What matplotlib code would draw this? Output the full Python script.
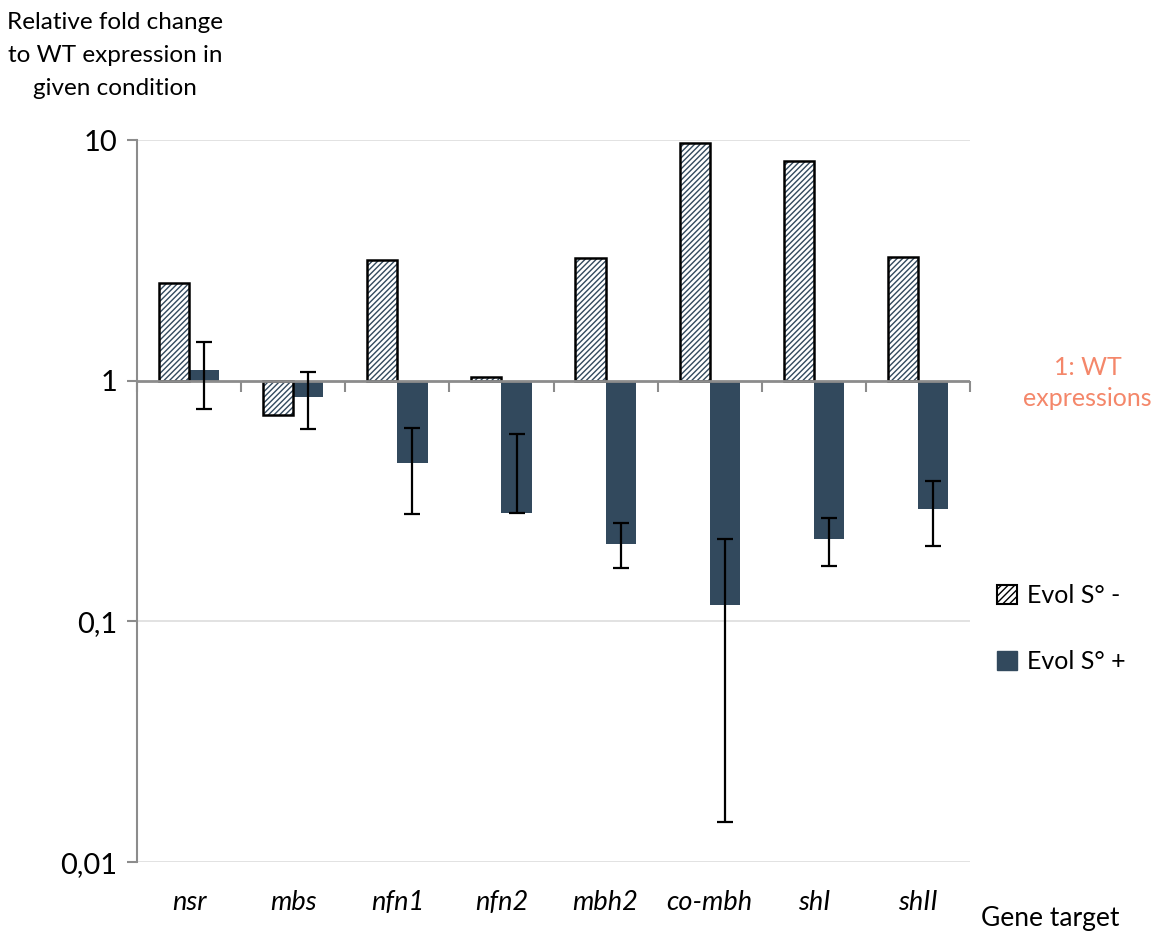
import matplotlib.pyplot as plt
import numpy as np

plt.rcParams["font.family"] = ["Lato", "DejaVu Sans"]

genes = ["nsr", "mbs", "nfn1", "nfn2", "mbh2", "co-mbh", "shI", "shII"]
evol_minus = [2.55, 0.72, 3.18, 1.04, 3.24, 9.75, 8.2, 3.27]
evol_plus = [1.11, 0.86, 0.456, 0.283, 0.21, 0.117, 0.219, 0.294]
err_low = [0.76, 0.63, 0.28, 0.283, 0.166, 0.0147, 0.17, 0.205]
err_high = [1.45, 1.09, 0.638, 0.60, 0.257, 0.22, 0.27, 0.385]

DARK = "#32495D"
x = np.arange(len(genes))
w = 0.29

fig = plt.figure(figsize=(11.52, 9.34), dpi=100)
ax = fig.add_axes([0.119, 0.077, 0.723, 0.773])
ax.set_yscale("log")
ax.set_ylim(0.01, 10)
ax.set_xlim(-0.5, len(genes) - 0.5)

minus = np.array(evol_minus)
plus = np.array(evol_plus)

# hatched bars: hatch in dark blue, black outline drawn separately
ax.bar(x - w / 2, minus - 1, w, bottom=1, color="white", edgecolor=DARK,
       hatch="//////", linewidth=0, zorder=3)
ax.bar(x - w / 2, minus - 1, w, bottom=1, fill=False, edgecolor="black",
       linewidth=1.8, zorder=4)
ax.bar(x + w / 2, plus - 1, w, bottom=1, color=DARK, zorder=3)
yerr = np.array([plus - np.array(err_low), np.array(err_high) - plus])
ax.errorbar(x + w / 2, plus, yerr=yerr, fmt="none", ecolor="black",
            elinewidth=1.6, capsize=6, capthick=1.6, zorder=5)

# gridlines and axis crossing at 1
for v in [10, 0.1, 0.01]:
    ax.axhline(v, color="#DDDDDD", linewidth=1.2, zorder=1)
ax.axhline(1, color="#8C8C8C", linewidth=2, zorder=4)

for s in ["top", "right", "bottom"]:
    ax.spines[s].set_visible(False)
ax.spines["left"].set_color("#8C8C8C")
ax.spines["left"].set_linewidth(1.5)
ax.set_yticks([0.01, 0.1, 1, 10])
ax.set_yticklabels(["0,01", "0,1", "1", "10"])
ax.minorticks_off()
ax.tick_params(axis="y", length=7, width=1.5, color="#8C8C8C",
               labelsize=21, pad=7)
ax.set_xticks(x)
ax.set_xticklabels(genes, fontstyle="italic", fontsize=19.5)
ax.tick_params(axis="x", length=0, pad=20)

# category boundary ticks on the axis at y=1
sec = ax.secondary_xaxis(2 / 3)
sec.set_xticks(np.arange(len(genes) + 1) - 0.5)
sec.tick_params(axis="x", direction="out", length=8, width=1.5,
                color="#8C8C8C", labelbottom=False, labeltop=False,
                bottom=True, top=False)
sec.spines["bottom"].set_visible(False)
sec.spines["top"].set_visible(False)

fig.text(0.100, 0.941, "Relative fold change\nto WT expression in\ngiven condition",
         ha="center", va="center", fontsize=17.5, linespacing=1.7)
fig.text(0.912, 0.017, "Gene target", ha="center", va="center", fontsize=19)
fig.text(0.944, 0.590, "1: WT\nexpressions", ha="center", va="center",
         fontsize=18, color="#F4876A", linespacing=1.45)

h1 = plt.Rectangle((0, 0), 1, 1, facecolor="white", edgecolor="black",
                   hatch="/////", linewidth=1.5)
h2 = plt.Rectangle((0, 0), 1, 1, facecolor=DARK, edgecolor=DARK)
fig.legend([h1, h2], ["Evol S° -", "Evol S° +"], loc="center left",
           bbox_to_anchor=(0.846, 0.327), frameon=False, fontsize=18,
           handlelength=0.8, handleheight=0.8, handletextpad=0.4,
           labelspacing=1.7)

fig.savefig("out.png", dpi=100)
